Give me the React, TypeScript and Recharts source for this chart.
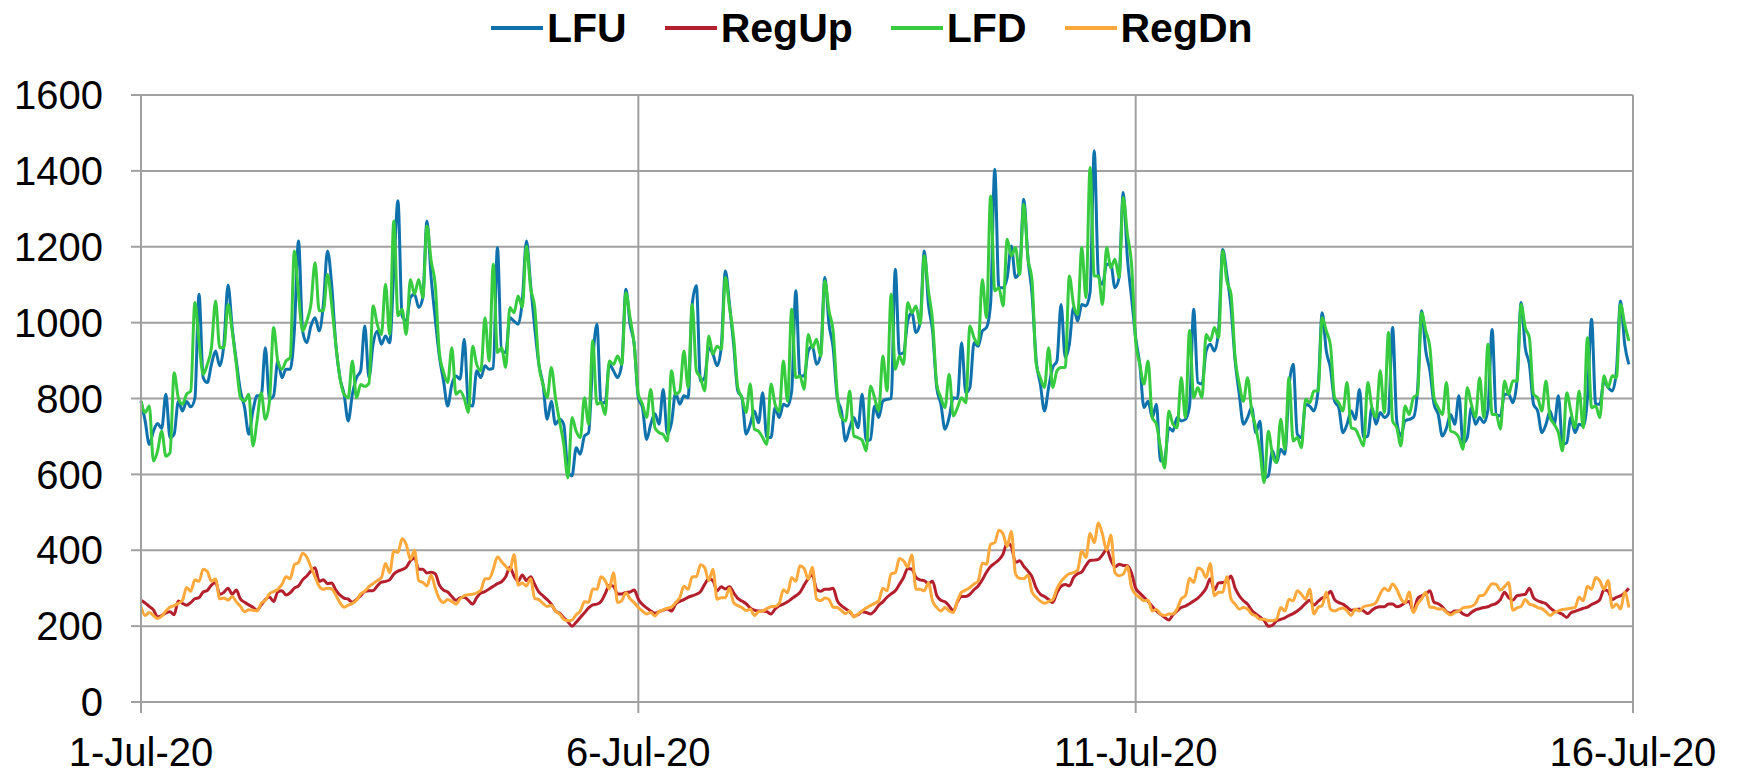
import { LineChart, Line, XAxis, YAxis, CartesianGrid } from "recharts";

// hourly values, one row of 24 per day (1-Jul .. 15-Jul)
const lfuDays = [
  [793, 741, 679, 714, 734, 721, 811, 697, 706, 793, 767, 792, 778, 800, 1075, 855, 842, 890, 925, 886, 943, 1099, 987, 899],
  [820, 776, 706, 767, 807, 807, 934, 798, 807, 899, 855, 877, 877, 978, 1215, 978, 947, 991, 1013, 978, 1048, 1189, 1101, 943],
  [855, 811, 741, 811, 855, 873, 991, 855, 943, 978, 943, 965, 947, 1136, 1321, 1018, 1004, 1066, 1075, 1040, 1066, 1268, 1120, 1010],
  [910, 846, 780, 837, 859, 851, 956, 785, 780, 873, 855, 886, 877, 880, 1198, 925, 921, 1013, 1004, 996, 1057, 1215, 1101, 987],
  [890, 837, 745, 793, 732, 745, 732, 609, 596, 670, 653, 701, 710, 899, 996, 789, 789, 890, 873, 855, 890, 1088, 996, 943],
  [802, 776, 692, 732, 760, 732, 824, 706, 736, 815, 785, 807, 802, 1048, 1097, 846, 855, 934, 917, 886, 934, 1136, 1048, 943],
  [820, 802, 706, 732, 767, 736, 815, 697, 697, 776, 750, 785, 780, 820, 1084, 859, 859, 925, 938, 890, 917, 1119, 996, 934],
  [802, 767, 688, 723, 750, 723, 811, 688, 692, 780, 750, 793, 798, 800, 1141, 917, 921, 1004, 1026, 974, 1000, 1189, 1048, 978],
  [829, 785, 719, 750, 802, 800, 947, 815, 829, 947, 938, 978, 987, 1050, 1404, 1092, 1092, 1119, 1202, 1119, 1136, 1325, 1171, 1075],
  [900, 838, 767, 829, 882, 899, 1048, 908, 943, 1040, 1004, 1048, 1044, 1080, 1453, 1127, 1101, 1154, 1154, 1092, 1119, 1343, 1171, 1066],
  [960, 890, 776, 793, 750, 785, 635, 640, 723, 714, 750, 741, 745, 780, 1035, 842, 838, 925, 943, 925, 978, 1193, 1127, 1040],
  [899, 811, 732, 750, 776, 710, 741, 591, 596, 662, 631, 666, 653, 829, 890, 706, 697, 785, 780, 767, 820, 1026, 925, 880],
  [793, 776, 710, 732, 767, 745, 824, 697, 701, 776, 732, 763, 750, 760, 987, 741, 701, 741, 745, 750, 820, 1031, 925, 873],
  [785, 758, 701, 723, 758, 732, 807, 683, 697, 776, 732, 750, 736, 770, 982, 758, 754, 811, 811, 789, 846, 1053, 934, 890],
  [785, 767, 710, 732, 767, 732, 807, 679, 683, 750, 710, 732, 728, 800, 1009, 785, 785, 846, 829, 820, 873, 1057, 943, 890],
];

const lfdDays = [
  [793, 763, 780, 635, 662, 714, 648, 657, 868, 802, 785, 811, 820, 1053, 950, 864, 890, 934, 1057, 934, 934, 1048, 978, 890],
  [802, 793, 811, 675, 741, 815, 745, 793, 987, 899, 877, 899, 908, 1189, 1075, 978, 1004, 1048, 1158, 1031, 1031, 1127, 1048, 943],
  [855, 811, 802, 899, 802, 837, 832, 840, 1044, 996, 969, 1101, 969, 1268, 1018, 1035, 969, 1114, 1075, 1114, 1066, 1255, 1163, 1100],
  [920, 870, 842, 934, 811, 820, 800, 763, 938, 890, 873, 1013, 899, 1154, 921, 934, 882, 1040, 1026, 1070, 1040, 1202, 1092, 1040],
  [890, 837, 802, 882, 802, 740, 680, 591, 750, 714, 697, 802, 732, 952, 785, 790, 758, 899, 890, 912, 890, 1079, 1013, 943],
  [811, 785, 750, 824, 723, 710, 705, 688, 873, 811, 820, 925, 829, 1048, 873, 855, 820, 965, 917, 938, 930, 1119, 1040, 960],
  [829, 802, 763, 838, 719, 714, 697, 679, 838, 785, 767, 899, 793, 1035, 855, 859, 824, 969, 934, 956, 912, 1110, 1031, 978],
  [811, 750, 741, 820, 701, 697, 690, 662, 833, 802, 767, 912, 820, 1075, 877, 912, 890, 1053, 1026, 1044, 996, 1176, 1084, 1004],
  [838, 802, 776, 864, 754, 776, 802, 789, 991, 960, 943, 1114, 1013, 1334, 1084, 1092, 1044, 1220, 1176, 1198, 1127, 1312, 1171, 1110],
  [890, 855, 829, 934, 829, 873, 882, 882, 1123, 1048, 1022, 1198, 1066, 1409, 1123, 1123, 1048, 1198, 1145, 1167, 1119, 1330, 1233, 1154],
  [952, 890, 838, 899, 750, 732, 670, 617, 767, 732, 723, 855, 750, 979, 802, 829, 802, 969, 952, 987, 960, 1189, 1110, 1075],
  [908, 838, 793, 855, 767, 723, 662, 578, 714, 653, 631, 745, 666, 855, 688, 697, 670, 798, 789, 820, 820, 1013, 978, 940],
  [802, 789, 767, 842, 723, 719, 697, 675, 842, 776, 750, 873, 763, 974, 741, 723, 675, 780, 758, 802, 811, 1026, 978, 934],
  [802, 776, 758, 842, 714, 710, 697, 666, 829, 785, 750, 855, 750, 943, 758, 758, 719, 846, 811, 846, 846, 1048, 987, 960],
  [811, 802, 767, 846, 750, 732, 710, 662, 815, 767, 723, 820, 723, 960, 776, 780, 750, 860, 829, 860, 855, 1048, 996, 952],
];

const regUpDays = [
  [268, 261, 252, 243, 224, 228, 235, 238, 230, 266, 260, 255, 262, 272, 275, 290, 294, 308, 315, 284, 289, 300, 284, 295],
  [271, 263, 256, 250, 242, 256, 270, 277, 265, 290, 293, 282, 288, 300, 306, 322, 332, 345, 354, 318, 322, 312, 314, 295],
  [282, 274, 271, 263, 270, 280, 291, 293, 293, 306, 316, 318, 322, 337, 345, 349, 355, 372, 380, 350, 350, 340, 342, 338],
  [308, 295, 290, 278, 268, 275, 276, 268, 258, 275, 287, 291, 298, 305, 312, 317, 330, 355, 332, 318, 335, 320, 330, 310],
  [290, 280, 270, 258, 240, 234, 222, 212, 200, 210, 223, 235, 248, 256, 258, 265, 285, 308, 305, 285, 285, 289, 290, 295],
  [271, 257, 248, 240, 234, 238, 242, 245, 240, 258, 265, 270, 276, 280, 284, 291, 310, 325, 320, 293, 304, 298, 304, 288],
  [273, 266, 259, 248, 242, 240, 240, 238, 232, 245, 254, 258, 264, 272, 280, 289, 308, 325, 335, 297, 292, 297, 297, 300],
  [267, 254, 246, 238, 226, 230, 238, 236, 232, 240, 255, 264, 276, 285, 293, 310, 328, 352, 350, 328, 322, 320, 312, 318],
  [281, 268, 264, 253, 240, 264, 278, 278, 284, 296, 306, 322, 342, 357, 366, 375, 390, 420, 410, 368, 372, 358, 345, 330],
  [300, 284, 278, 270, 262, 288, 305, 310, 306, 328, 338, 343, 360, 373, 374, 376, 388, 402, 375, 356, 363, 360, 359, 340],
  [300, 287, 276, 265, 252, 240, 231, 223, 216, 230, 240, 249, 253, 259, 266, 274, 285, 300, 325, 295, 314, 315, 318, 332],
  [300, 280, 267, 258, 242, 232, 224, 215, 200, 202, 214, 218, 222, 228, 233, 240, 249, 260, 268, 255, 265, 274, 278, 292],
  [270, 262, 258, 250, 242, 243, 245, 240, 233, 242, 249, 251, 251, 258, 258, 251, 254, 262, 265, 240, 272, 280, 284, 293],
  [263, 259, 251, 238, 234, 240, 240, 232, 228, 236, 243, 246, 249, 251, 256, 260, 270, 289, 275, 268, 280, 282, 284, 300],
  [275, 267, 263, 259, 248, 240, 236, 231, 223, 235, 239, 243, 247, 250, 257, 262, 270, 296, 292, 270, 276, 280, 288, 300],
];

const regDnDays = [
  [251, 228, 236, 228, 220, 226, 240, 250, 254, 260, 268, 302, 292, 322, 318, 350, 344, 318, 324, 272, 274, 268, 278, 264],
  [252, 238, 243, 242, 240, 260, 268, 285, 291, 297, 310, 330, 325, 362, 368, 392, 382, 356, 330, 305, 297, 300, 298, 282],
  [262, 250, 255, 260, 268, 285, 292, 304, 312, 320, 328, 365, 341, 398, 394, 430, 415, 376, 400, 320, 315, 306, 335, 300],
  [272, 262, 270, 265, 258, 272, 280, 283, 284, 288, 295, 325, 325, 350, 382, 370, 358, 347, 389, 308, 314, 306, 325, 273],
  [270, 260, 252, 255, 240, 232, 218, 214, 216, 230, 240, 264, 263, 298, 297, 330, 320, 298, 341, 262, 267, 288, 272, 262],
  [249, 240, 232, 236, 227, 238, 243, 247, 250, 262, 275, 305, 297, 330, 330, 362, 354, 320, 350, 271, 275, 275, 300, 262],
  [254, 249, 241, 245, 228, 238, 240, 246, 251, 252, 260, 296, 288, 328, 318, 359, 352, 324, 355, 272, 267, 274, 270, 250],
  [249, 241, 233, 240, 224, 232, 240, 248, 254, 260, 267, 300, 293, 338, 341, 378, 372, 356, 388, 297, 297, 293, 314, 266],
  [249, 240, 249, 240, 236, 267, 289, 295, 302, 311, 319, 366, 363, 416, 420, 453, 443, 410, 450, 338, 326, 325, 335, 290],
  [276, 266, 260, 265, 270, 298, 318, 330, 338, 341, 348, 398, 381, 444, 420, 472, 442, 400, 440, 341, 333, 337, 357, 302],
  [284, 275, 267, 268, 240, 244, 232, 228, 232, 232, 245, 272, 280, 326, 315, 353, 348, 328, 365, 280, 289, 289, 330, 272],
  [258, 245, 249, 245, 232, 227, 218, 218, 214, 214, 218, 249, 240, 271, 267, 293, 284, 271, 297, 232, 249, 254, 289, 245],
  [240, 245, 248, 240, 228, 245, 240, 251, 254, 256, 262, 285, 300, 293, 311, 297, 272, 262, 290, 236, 258, 272, 289, 250],
  [249, 245, 245, 236, 229, 236, 240, 248, 250, 252, 260, 280, 282, 298, 312, 310, 295, 304, 315, 242, 248, 252, 270, 258],
  [255, 249, 246, 238, 228, 236, 240, 244, 245, 247, 249, 276, 267, 305, 297, 328, 319, 297, 320, 249, 258, 245, 289, 249],
];

const dateLabels = ["1-Jul-20", "6-Jul-20", "11-Jul-20", "16-Jul-20"];
const dateTicks = [0, 120, 240, 360];
const valueTicks = [0, 200, 400, 600, 800, 1000, 1200, 1400, 1600];

const series = [
  { key: "LFU", color: "#0F72AC" },
  { key: "RegUp", color: "#B41F2E" },
  { key: "LFD", color: "#37CB3F" },
  { key: "RegDn", color: "#FFA83B" },
];

const rows: any[] = [];
lfuDays.forEach((day, d) => {
  day.forEach((v, i) => {
    rows.push({
      h: d * 24 + i,
      LFU: v,
      RegUp: regUpDays[d][i],
      LFD: lfdDays[d][i],
      RegDn: regDnDays[d][i],
    });
  });
});

const FONT = "'Liberation Sans', Arial, sans-serif";
const GRID = "#A0A0A0";

export default function App() {
  return (
    <div style={{ position: "absolute", left: 0, top: 0, width: 1737, height: 774, background: "#fff", fontFamily: FONT, overflow: "hidden" }}>
      {/* legend */}
      <div style={{ position: "absolute", left: 491, top: 4, display: "flex", alignItems: "center", gap: 38, height: 48 }}>
        {series.map((s) => (
          <div key={s.key} style={{ display: "flex", alignItems: "center" }}>
            <div style={{ width: 52, height: 4, background: s.color, marginRight: 4 }} />
            <span style={{ fontSize: 41, fontWeight: "bold", color: "#000", lineHeight: "48px" }}>{s.key}</span>
          </div>
        ))}
      </div>

      <LineChart
        width={1737}
        height={774}
        data={rows}
        margin={{ top: 95, right: 104, bottom: 22, left: 61 }}
        style={{ position: "absolute", left: 0, top: 0 }}
      >
        <CartesianGrid stroke={GRID} strokeWidth={2} horizontalValues={valueTicks} verticalValues={dateTicks} />
        <XAxis
          dataKey="h"
          type="number"
          domain={[0, 360]}
          ticks={dateTicks}
          tickFormatter={(v) => dateLabels[dateTicks.indexOf(v)]}
          height={50}
          tickSize={11}
          tickMargin={25}
          stroke={GRID}
          strokeWidth={2}
          tick={{ fill: "#000", fontSize: 40, fontFamily: FONT }}
          interval={0}
        />
        <YAxis
          type="number"
          domain={[0, 1600]}
          ticks={valueTicks}
          width={80}
          tickSize={10}
          tickMargin={28}
          stroke={GRID}
          strokeWidth={2}
          tick={{ fill: "#000", fontSize: 40, fontFamily: FONT }}
          interval={0}
        />
        {series.map((s) => (
          <Line
            key={s.key}
            dataKey={s.key}
            type="monotone"
            stroke={s.color}
            strokeWidth={3}
            dot={false}
            isAnimationActive={false}
          />
        ))}
      </LineChart>
    </div>
  );
}
